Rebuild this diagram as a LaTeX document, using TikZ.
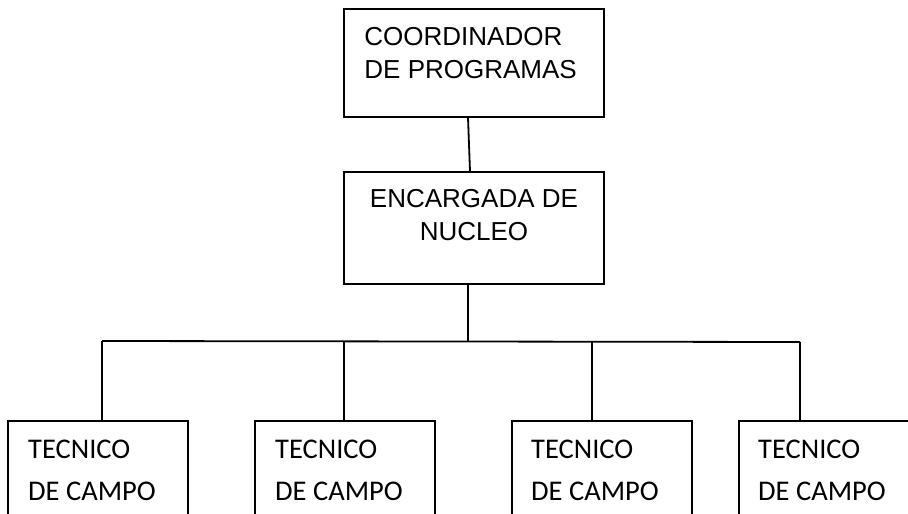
\documentclass[tikz,border=0pt]{standalone}
\usepackage{fontspec}
\newfontfamily\arialfont{Liberation Sans}
\newfontfamily\calibrifont{Carlito}
\usepackage{tikz}

\begin{document}
\begin{tikzpicture}[x=1pt,y=-1pt,
		caja/.style={draw,line width=1.5pt,inner sep=0pt},
		linea/.style={line width=1.8pt},
		jefe/.style={font=\arialfont\fontsize{26}{33}\selectfont,inner sep=0pt},
		tecnico/.style={font=\calibrifont\fontsize{28.5}{42}\selectfont,inner sep=0pt,align=left}]
			\def\anchojefe{260pt}
			\def\anchotec{180pt}
			
			\useasboundingbox (0,0) rectangle (908,514);
			\fill[white] (0,0) rectangle (908,514);
			\clip (0,0) rectangle (908,514);
			
			\node[caja,minimum width=\anchojefe,minimum height=108pt] (coord) at (474,63) {};
			\node[caja,minimum width=\anchojefe,minimum height=112pt] (enc) at (474,228) {};
			
			\node[caja,line width=1.9pt,minimum width=\anchotec,minimum height=120pt,anchor=north west] (tec1) at (7,420) {};
			\node[caja,line width=1.9pt,minimum width=\anchotec,minimum height=120pt,anchor=north west] (tec2) at (254,420) {};
			\node[caja,line width=1.9pt,minimum width=\anchotec,minimum height=120pt,anchor=north west] (tec3) at (511,420) {};
			\node[caja,line width=1.9pt,minimum width=\anchotec,minimum height=120pt,anchor=north west] (tec4) at (738,420) {};
			
			\node[jefe,anchor=north west,align=left] (tcoord) at ([xshift=21pt,yshift=-19pt]coord.north west) {COORDINADOR\\DE PROGRAMAS};
			\node[jefe,anchor=north,align=center] (tenc) at ([yshift=-18pt]enc.north) {ENCARGADA DE\\NUCLEO};
			
			\node[tecnico,anchor=north west] (ttec1) at ([xshift=21pt,yshift=-20pt]tec1.north west) {TECNICO\\DE CAMPO};
			\node[tecnico,anchor=north west] (ttec2) at ([xshift=21pt,yshift=-20pt]tec2.north west) {TECNICO\\DE CAMPO};
			\node[tecnico,anchor=north west] (ttec3) at ([xshift=20pt,yshift=-20pt]tec3.north west) {TECNICO\\DE CAMPO};
			\node[tecnico,anchor=north west] (ttec4) at ([xshift=20pt,yshift=-20pt]tec4.north west) {TECNICO\\DE CAMPO};
			
			\coordinate (bus) at (468,341);
			\coordinate (bus1) at (102,341);
			\coordinate (bus2) at (344,341);
			\coordinate (bus3) at (592,342);
			\coordinate (bus4) at (800,342);
			
			\draw[linea] ([xshift=-6pt]coord.south) -- ([xshift=-4pt]enc.north);
			\draw[linea] (bus |- enc.south) -- (bus);
			\draw[linea] (bus1) -- (bus4);
			\draw[linea] (bus1) -- (bus1 |- tec1.north);
			\draw[linea] (bus2) -- (bus2 |- tec2.north);
			\draw[linea] (bus3) -- (bus3 |- tec3.north);
			\draw[linea] (bus4) -- (bus4 |- tec4.north);
		\end{tikzpicture}
\end{document}
